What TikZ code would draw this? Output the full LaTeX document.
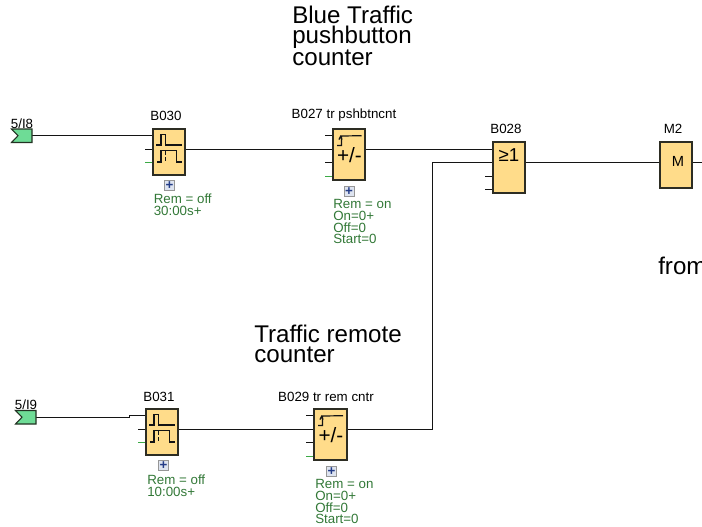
\documentclass[tikz,border=0pt]{standalone}
\usepackage{fontspec}
\setmainfont{Liberation Sans}

\tikzset{
	wire/.style={line width=0.75pt, color={rgb, 255:red, 20; green, 20; blue, 20 }},
	greenpin/.style={line width=0.75pt, color={rgb, 255:red, 60; green, 170; blue, 70 }},
	glyph/.style={line width=0.9pt, color={rgb, 255:red, 20; green, 20; blue, 20 }},
	block/.style={draw={rgb, 255:red, 45; green, 45; blue, 35 }, line width=1pt, fill={rgb, 255:red, 255; green, 220; blue, 138 }, inner sep=0pt, outer sep=0pt, anchor=north west, minimum width=24pt},
	flag/.style={draw={rgb, 255:red, 35; green, 50; blue, 35 }, line width=0.8pt, fill={rgb, 255:red, 110; green, 220; blue, 150 }},
	plusbox/.style={draw={rgb, 255:red, 150; green, 150; blue, 150 }, line width=0.6pt, fill={rgb, 255:red, 222; green, 228; blue, 240 }, text={rgb, 255:red, 35; green, 60; blue, 135 }, font=\fontsize{10}{10}\selectfont\bfseries, inner sep=0pt, minimum size=7.5pt},
	blocklabel/.style={font=\fontsize{10}{10}\selectfont, inner sep=0pt},
	param/.style={text={rgb, 255:red, 50; green, 120; blue, 55 }, font=\fontsize{10}{8.7}\selectfont, align=left, anchor=north west, inner sep=0pt},
	bigtext/.style={font=\fontsize{18.1}{15}\selectfont, align=left, anchor=north west, inner sep=0pt}
}

\begin{document}
\begin{tikzpicture}[x=0.75pt,y=0.75pt,yscale=-1,xscale=1]
	\useasboundingbox (0,0) rectangle (702,526);
	\clip (0,0) rectangle (702,526);

	% Pins
	\coordinate (I8out) at (32,135);
	\coordinate (I9out) at (36,417);
	\coordinate (jogA) at (129,417);
	\coordinate (jogB) at (129,415);
	\coordinate (B030a) at (153,135);
	\coordinate (B030b) at (153,149);
	\coordinate (B030bEnd) at (145,149);
	\coordinate (B030c) at (153,162);
	\coordinate (B030cEnd) at (145,162);
	\coordinate (B030out) at (185,149);
	\coordinate (B027a) at (333,135);
	\coordinate (B027aEnd) at (325,135);
	\coordinate (B027b) at (333,149);
	\coordinate (B027c) at (333,162);
	\coordinate (B027cEnd) at (325,162);
	\coordinate (B027d) at (333,176);
	\coordinate (B027dEnd) at (325,176);
	\coordinate (B027out) at (365,149);
	\coordinate (B028a) at (493,149);
	\coordinate (B028b) at (493,162);
	\coordinate (B028c) at (493,176);
	\coordinate (B028cEnd) at (485,176);
	\coordinate (B028d) at (493,189);
	\coordinate (B028dEnd) at (485,189);
	\coordinate (B028out) at (525,162);
	\coordinate (M2in) at (660,162);
	\coordinate (M2out) at (692,162);
	\coordinate (M2end) at (702,162);
	\coordinate (B031a) at (146,415);
	\coordinate (B031b) at (146,429);
	\coordinate (B031bEnd) at (138,429);
	\coordinate (B031c) at (146,442);
	\coordinate (B031cEnd) at (138,442);
	\coordinate (B031out) at (178,429);
	\coordinate (B029a) at (314,415);
	\coordinate (B029aEnd) at (306,415);
	\coordinate (B029b) at (314,429);
	\coordinate (B029c) at (314,442);
	\coordinate (B029cEnd) at (306,442);
	\coordinate (B029d) at (314,456);
	\coordinate (B029dEnd) at (306,456);
	\coordinate (B029out) at (347,429);
	\coordinate (riserA) at (432,429);
	\coordinate (riserB) at (432,162);

	% Wires
	\draw [wire] (I8out) -- (B030a);
	\draw [wire] (B030out) -- (B027b);
	\draw [wire] (B027out) -- (B028a);
	\draw [wire] (I9out) -- (jogA) -- (jogB) -- (B031a);
	\draw [wire] (B031out) -- (B029b);
	\draw [wire] (B029out) -- (riserA) -- (riserB) -- (B028b);
	\draw [wire] (B028out) -- (M2in);
	\draw [wire] (M2out) -- (M2end);

	% Free pins
	\draw [wire] (B030bEnd) -- (B030b);
	\draw [greenpin] (B030cEnd) -- (B030c);
	\draw [wire] (B027aEnd) -- (B027a);
	\draw [wire] (B027cEnd) -- (B027c);
	\draw [greenpin] (B027dEnd) -- (B027d);
	\draw [wire] (B028cEnd) -- (B028c);
	\draw [wire] (B028dEnd) -- (B028d);
	\draw [wire] (B031bEnd) -- (B031b);
	\draw [greenpin] (B031cEnd) -- (B031c);
	\draw [wire] (B029aEnd) -- (B029a);
	\draw [wire] (B029cEnd) -- (B029c);
	\draw [greenpin] (B029dEnd) -- (B029d);

	%Shape: Flag
	\draw [flag] (11.5,129) -- (32,129) -- (32,142.5) -- (11.5,142.5) -- (18,135.7) -- cycle ;
	%Shape: Flag
	\draw [flag] (15.5,410.5) -- (36,410.5) -- (36,424) -- (15.5,424) -- (22,417.2) -- cycle ;

	%Shape: Block
	\node [block, minimum height=34.5pt] (B030) at (153,129) {};
	\node [block, minimum height=38.25pt] (B027) at (333,129) {};
	\node [block, minimum height=38.25pt] (B028) at (493,142) {};
	\node [block, minimum height=34.5pt] (M2) at (660,142) {};
	\node [block, minimum height=34.5pt] (B031) at (146,409) {};
	\node [block, minimum height=38.25pt, minimum width=24.75pt] (B029) at (314,409) {};

	%Pulse glyph B030
	\draw [glyph] (156,145) -- (161,145) -- (161,134.5) -- (165.7,134.5) -- (165.7,145) -- (181.5,145) ;
	\draw [glyph] (157,162) -- (161,162) -- (161,150.7) -- (176.7,150.7) -- (176.7,162) -- (181.5,162) ;
	\draw [glyph, dashed, dash pattern=on 3pt off 1.5pt] (165.7,151) -- (165.7,162) ;
	%Pulse glyph B031
	\draw [glyph] (149,425) -- (154,425) -- (154,414.5) -- (158.7,414.5) -- (158.7,425) -- (174.5,425) ;
	\draw [glyph] (150,442) -- (154,442) -- (154,430.7) -- (169.7,430.7) -- (169.7,442) -- (174.5,442) ;
	\draw [glyph, dashed, dash pattern=on 3pt off 1.5pt] (158.7,431) -- (158.7,442) ;
	%Counter glyph B027
	\draw [glyph] (337,145.5) -- (341.5,145.5) -- (341.5,136) -- (361.5,135.7) ;
	\draw [glyph] (339,139.5) -- (340.5,136.5) -- (342,139.5) ;
	%Counter glyph B029
	\draw [glyph] (318,425.5) -- (322.5,425.5) -- (322.5,416) -- (343,415.7) ;
	\draw [glyph] (320,419.5) -- (321.5,416.5) -- (323,419.5) ;

	% Text Node
	\node [font=\fontsize{15.5}{15.5}\selectfont, inner sep=0pt] (cntB027) at (349.5,155.5) {+/-};
	% Text Node
	\node [font=\fontsize{15.5}{15.5}\selectfont, inner sep=0pt] (cntB029) at (331,435.5) {+/-};
	% Text Node
	\node [font=\fontsize{14}{14}\selectfont, inner sep=0pt] (orB028) at (509,155) {≥1};
	% Text Node
	\node [font=\fontsize{11}{11}\selectfont, inner sep=0pt] (mM2) at (678,161) {M};

	% Text Node
	\node [blocklabel] (lblI8) at (22,123.5) {5/I8};
	\node [blocklabel] (lblI9) at (26,404.5) {5/I9};
	\node [blocklabel] (lblB030) at (166,115.5) {B030};
	\node [blocklabel] (lblB027) at (344,115.5) {B027 tr pshbtncnt};
	\node [blocklabel] (lblB028) at (506,128.5) {B028};
	\node [blocklabel] (lblM2) at (673,128.5) {M2};
	\node [blocklabel] (lblB031) at (159,396.5) {B031};
	\node [blocklabel] (lblB029) at (326,396.5) {B029 tr rem cntr};

	% Plus boxes
	\node [plusbox] (plusB030) at (169.5,185.5) {+};
	\node [plusbox] (plusB027) at (349,191.5) {+};
	\node [plusbox] (plusB031) at (163.5,465.5) {+};
	\node [plusbox] (plusB029) at (331.5,471.5) {+};

	% Parameters
	\node [param] (parB030) at (153.5,194) {Rem = off\\30:00s+};
	\node [param] (parB027) at (333,199.5) {Rem = on\\On=0+\\Off=0\\Start=0};
	\node [param] (parB031) at (147,475) {Rem = off\\10:00s+};
	\node [param] (parB029) at (315,479.5) {Rem = on\\On=0+\\Off=0\\Start=0};

	% Big text
	\node [bigtext] (titleBlue) at (292,6) {Blue Traffic\\pushbutton\\counter};
	\node [bigtext] (titleRemote) at (254,325) {Traffic remote\\counter};
	\node [bigtext] (titleFrom) at (658,257) {from};

\end{tikzpicture}
\end{document}
